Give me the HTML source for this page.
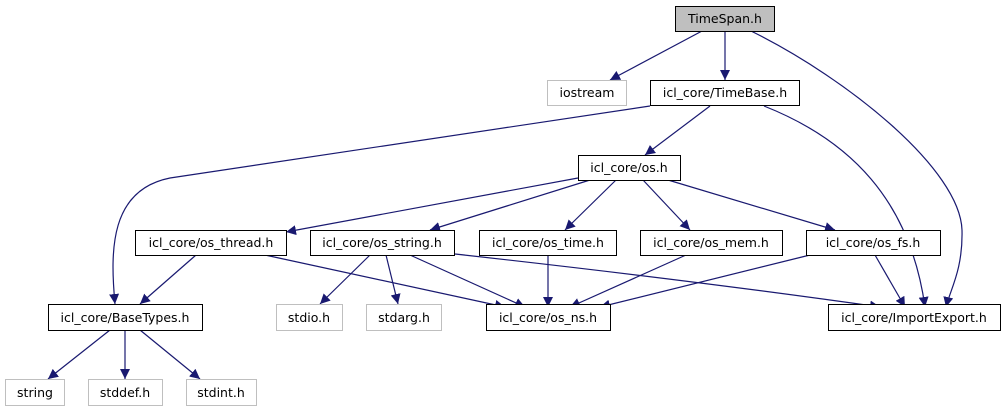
<!DOCTYPE html>
<html><head><meta charset="utf-8"><style>
html,body{margin:0;padding:0;background:#fff;}
svg{display:block;}
text{font-family:"DejaVu Sans","Liberation Sans",sans-serif;font-size:12.5px;fill:#000;}
</style></head><body>
<svg width="1005" height="411" viewBox="0 0 1005 411" xmlns="http://www.w3.org/2000/svg">
<defs>
<marker id="a" viewBox="0 0 10 10" refX="10" refY="5" markerWidth="10" markerHeight="10" markerUnits="userSpaceOnUse" orient="auto">
<path d="M0,0 L10,5 L0,10 z" fill="#191970"/>
</marker>
</defs>
<g fill="none" stroke="#191970" stroke-width="1.2" marker-end="url(#a)">
<path d="M702,31 L610,80"/>
<path d="M725,31 L725,80"/>
<path d="M751,31 C850,80 960,170 962,230 C963,270 950,290 946,307"/>
<path d="M650,106 L170,178 C110,190 110,250 115,304"/>
<path d="M710,106 L645,155"/>
<path d="M764,106 C850,140 910,200 925,307"/>
<path d="M578,178 L286,232"/>
<path d="M590,180 L430,230"/>
<path d="M616,180 L565,230"/>
<path d="M643,180 L690,230"/>
<path d="M668,180 L835,230"/>
<path d="M196,255 L140,304"/>
<path d="M265,255 L505,307"/>
<path d="M370,255 L320,304"/>
<path d="M386,255 L398,304"/>
<path d="M410,255 L525,307"/>
<path d="M455,254 C600,270 760,290 880,307"/>
<path d="M548,255 L548,307"/>
<path d="M686,255 L570,307"/>
<path d="M810,255 L600,307"/>
<path d="M875,255 L905,307"/>
<path d="M110,330 L48,379"/>
<path d="M125,330 L125,379"/>
<path d="M140,330 L200,379"/>
</g>
<g stroke-width="1">
<rect x="675.5" y="6.5" width="99" height="25" fill="#bfbfbf" stroke="#000"/>
<rect x="547.5" y="80.5" width="79" height="25" fill="#fff" stroke="#bfbfbf"/>
<rect x="650.5" y="80.5" width="149" height="25" fill="#fff" stroke="#000"/>
<rect x="578.5" y="155.5" width="102" height="25" fill="#fff" stroke="#000"/>
<rect x="135.5" y="230.5" width="151" height="25" fill="#fff" stroke="#000"/>
<rect x="310.5" y="230.5" width="144" height="25" fill="#fff" stroke="#000"/>
<rect x="479.5" y="230.5" width="137" height="25" fill="#fff" stroke="#000"/>
<rect x="640.5" y="230.5" width="142" height="25" fill="#fff" stroke="#000"/>
<rect x="806.5" y="230.5" width="134" height="25" fill="#fff" stroke="#000"/>
<rect x="48.5" y="304.5" width="154" height="26" fill="#fff" stroke="#000"/>
<rect x="276.5" y="304.5" width="66" height="26" fill="#fff" stroke="#bfbfbf"/>
<rect x="366.5" y="304.5" width="75" height="26" fill="#fff" stroke="#bfbfbf"/>
<rect x="486.5" y="304.5" width="124" height="26" fill="#fff" stroke="#000"/>
<rect x="828.5" y="304.5" width="172" height="26" fill="#fff" stroke="#000"/>
<rect x="5.5" y="379.5" width="59" height="26" fill="#fff" stroke="#bfbfbf"/>
<rect x="88.5" y="379.5" width="74" height="26" fill="#fff" stroke="#bfbfbf"/>
<rect x="186.5" y="379.5" width="70" height="26" fill="#fff" stroke="#bfbfbf"/>
</g>
<g text-anchor="middle">
<text x="725" y="23">TimeSpan.h</text>
<text x="587" y="97">iostream</text>
<text x="725" y="97">icl_core/TimeBase.h</text>
<text x="629" y="172">icl_core/os.h</text>
<text x="211" y="247">icl_core/os_thread.h</text>
<text x="382" y="247">icl_core/os_string.h</text>
<text x="548" y="247">icl_core/os_time.h</text>
<text x="711" y="247">icl_core/os_mem.h</text>
<text x="873" y="247">icl_core/os_fs.h</text>
<text x="125" y="322">icl_core/BaseTypes.h</text>
<text x="309" y="322">stdio.h</text>
<text x="404" y="322">stdarg.h</text>
<text x="548" y="322">icl_core/os_ns.h</text>
<text x="914" y="322">icl_core/ImportExport.h</text>
<text x="35" y="397">string</text>
<text x="125" y="397">stddef.h</text>
<text x="221" y="397">stdint.h</text>
</g>
</svg>
</body></html>
